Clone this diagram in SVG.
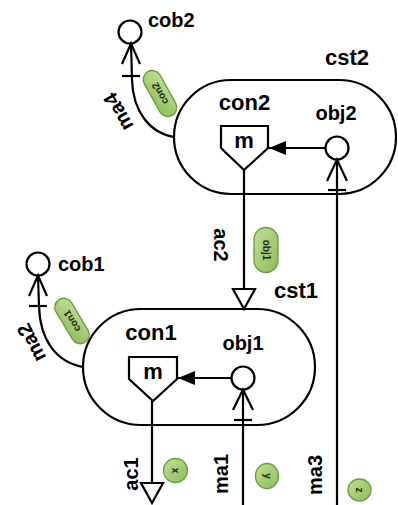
<svg xmlns="http://www.w3.org/2000/svg" width="398" height="505" viewBox="0 0 398 505">
<style>
.ln{fill:none;stroke:#000;stroke-width:2.2}
.sh{fill:#fff;stroke:#000;stroke-width:2.2}
.lb{font-family:"Liberation Sans",Arial,sans-serif;font-weight:bold;fill:#000}
.bd{fill:url(#gr);stroke:#6a9a3c;stroke-width:1.3}
.bt{font-family:"Liberation Sans",Arial,sans-serif;font-weight:bold;font-size:10px;fill:#1a2a10;text-anchor:middle}
</style>
<defs>
<linearGradient id="gr" x1="0" y1="0" x2="1" y2="1">
<stop offset="0" stop-color="#c2df98"/>
<stop offset="1" stop-color="#8cbc58"/>
</linearGradient>
<marker id="fill" markerWidth="18" markerHeight="16" refX="17" refY="7" orient="auto" markerUnits="userSpaceOnUse">
<path d="M0,0 L17,7 L0,14 Z" fill="#000"/>
</marker>
</defs>
<g id="cst2">
<rect class="sh" x="174" y="80" width="222" height="114" rx="57"/>
<text class="lb" x="347" y="65" font-size="22" text-anchor="middle">cst2</text>
</g>
<g id="cst1">
<rect class="sh" x="83" y="309" width="232" height="116" rx="58"/>
<text class="lb" x="296" y="298" font-size="22" text-anchor="middle">cst1</text>
</g>
<g id="con2">
<polygon class="sh" points="221,126 268,126 268,148 244,170 221,148"/>
<text class="lb" x="244" y="148" font-size="22" text-anchor="middle">m</text>
<text class="lb" x="244.5" y="110" font-size="22" text-anchor="middle">con2</text>
</g>
<g id="con1">
<polygon class="sh" points="129,357 177,357 177,379 153,401 129,379"/>
<text class="lb" x="153" y="379" font-size="22" text-anchor="middle">m</text>
<text class="lb" x="151" y="340" font-size="22" text-anchor="middle">con1</text>
</g>
<g id="obj2">
<circle class="sh" cx="337" cy="148" r="11.5"/>
<text class="lb" x="336" y="120" font-size="20" text-anchor="middle">obj2</text>
</g>
<g id="obj1">
<circle class="sh" cx="243" cy="378" r="11.5"/>
<text class="lb" x="243" y="350" font-size="20" text-anchor="middle">obj1</text>
</g>
<g id="cob2">
<circle class="sh" cx="130" cy="32" r="11.5"/>
<text class="lb" x="148" y="27" font-size="20">cob2</text>
</g>
<g id="cob1">
<circle class="sh" cx="38" cy="264" r="11.5"/>
<text class="lb" x="58" y="271" font-size="20">cob1</text>
</g>
<g id="connectors">
<line class="ln" x1="325.5" y1="148" x2="269" y2="148" marker-end="url(#fill)"/>
<line class="ln" x1="231.5" y1="378" x2="178" y2="378" marker-end="url(#fill)"/>
<line class="ln" x1="244" y1="170" x2="244" y2="289"/>
<polygon class="sh" points="233,289 255,289 244,309"/>
<g transform="translate(221,245) rotate(90)"><text class="lb" font-size="20" text-anchor="middle" dy="0.36em">ac2</text></g>
<g transform="translate(266,250)"><rect class="bd" x="-12" y="-22.5" width="24" height="45" rx="12"/><text class="bt" transform="rotate(90)" dy="0.35em">obj1</text></g>
<line class="ln" x1="152" y1="400" x2="152" y2="483"/>
<polygon class="sh" points="141,483 163,483 152,503"/>
<g transform="translate(131,474) rotate(-90)"><text class="lb" font-size="20" text-anchor="middle" dy="0.36em">ac1</text></g>
<g transform="translate(175.5,470.5)"><ellipse class="bd" rx="12" ry="12"/><text class="bt" font-size="9" transform="rotate(90)" dy="0.35em">x</text></g>
<line class="ln" x1="243" y1="389.5" x2="243" y2="505"/>
<polyline class="ln" points="233,410 243,389.5 253,410"/>
<line class="ln" x1="234" y1="420" x2="252" y2="420"/>
<g transform="translate(221,474) rotate(-90)"><text class="lb" font-size="20" text-anchor="middle" dy="0.36em">ma1</text></g>
<g transform="translate(267,476)"><ellipse class="bd" rx="11.5" ry="12.5"/><text class="bt" font-size="9" transform="rotate(90)" dy="0.35em">y</text></g>
<line class="ln" x1="337" y1="159.5" x2="337" y2="505"/>
<polyline class="ln" points="327,181 337,159.5 347,181"/>
<line class="ln" x1="328" y1="190" x2="346" y2="190"/>
<g transform="translate(315,475) rotate(-90)"><text class="lb" font-size="20" text-anchor="middle" dy="0.36em">ma3</text></g>
<g transform="translate(359.5,490)"><ellipse class="bd" rx="11.5" ry="11"/><text class="bt" font-size="9" transform="rotate(90)" dy="0.35em">z</text></g>
<path class="ln" d="M174,137 C150,133 133,112 132,80 L131,43.5"/>
<polyline class="ln" points="122,64 131,43.5 140,64"/>
<line class="ln" x1="122" y1="76" x2="140" y2="76"/>
<g transform="translate(118,112) rotate(-119)"><text class="lb" font-size="20" text-anchor="middle" dy="0.36em">ma4</text></g>
<g transform="translate(160,93.5) rotate(61)"><rect class="bd" x="-25" y="-9" width="50" height="18" rx="9"/><text class="bt" transform="rotate(180)" dy="0.35em">con2</text></g>
<path class="ln" d="M83,367 C56,362 40,340 39,306 L38,275.5"/>
<polyline class="ln" points="29,296 38,275.5 47,296"/>
<line class="ln" x1="29" y1="306" x2="47" y2="306"/>
<g transform="translate(31,343) rotate(-117)"><text class="lb" font-size="20" text-anchor="middle" dy="0.36em">ma2</text></g>
<g transform="translate(72,321) rotate(59)"><rect class="bd" x="-25" y="-9" width="50" height="18" rx="9"/><text class="bt" transform="rotate(180)" dy="0.35em">con1</text></g>
</g>
</svg>
